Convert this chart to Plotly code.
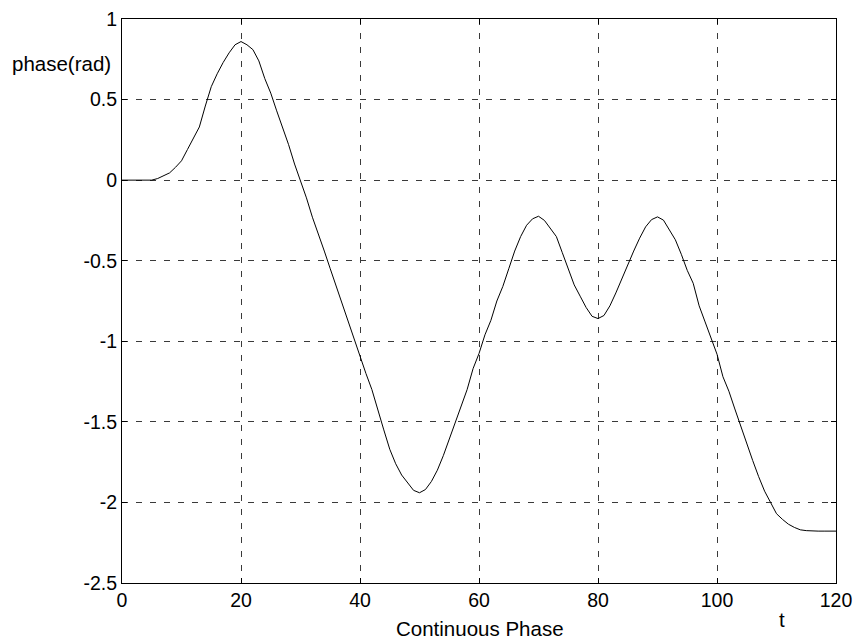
import plotly.graph_objects as go

# Continuous phase trajectory, sampled once per time unit
t = list(range(0, 121))
phase = [
    0.0, 0.0, 0.0, 0.0, 0.0, 0.0, 0.01, 0.025, 0.045, 0.08,
    0.12, 0.19, 0.26, 0.33, 0.46, 0.58, 0.66, 0.73, 0.79, 0.84,
    0.86, 0.84, 0.81, 0.74, 0.63, 0.54, 0.43, 0.33, 0.22, 0.10,
    0.0, -0.11, -0.23, -0.33, -0.44, -0.55, -0.66, -0.77, -0.88, -0.98,
    -1.10, -1.20, -1.30, -1.43, -1.55, -1.67, -1.76, -1.83, -1.88, -1.925,
    -1.94, -1.92, -1.87, -1.80, -1.71, -1.61, -1.51, -1.41, -1.30, -1.17,
    -1.076, -0.96, -0.87, -0.75, -0.66, -0.55, -0.44, -0.35, -0.28, -0.24,
    -0.224, -0.25, -0.30, -0.35, -0.45, -0.55, -0.65, -0.72, -0.79, -0.845,
    -0.859, -0.84, -0.78, -0.70, -0.61, -0.53, -0.44, -0.36, -0.29, -0.245,
    -0.228, -0.248, -0.31, -0.37, -0.46, -0.56, -0.64, -0.78, -0.88, -0.98,
    -1.08, -1.22, -1.31, -1.42, -1.53, -1.64, -1.74, -1.84, -1.93, -2.0,
    -2.07, -2.105, -2.135, -2.155, -2.17, -2.175, -2.178, -2.178, -2.178, -2.178,
    -2.178,
]

x_ticks = [0, 20, 40, 60, 80, 100, 120]
x_tick_text = ["0", "20", "40", "60", "80", "100", "120"]
y_ticks = [-2.5, -2, -1.5, -1, -0.5, 0, 0.5, 1]
y_tick_text = ["-2.5", "-2", "-1.5", "-1", "-0.5", "0", "0.5", "1"]

W, H = 856, 642
L, R, T, B = 122, 20, 19, 59

family = "Liberation Sans, Arial, sans-serif"
font = dict(family=family, size=19.5, color="black")
label_font = dict(family=family, size=20.5, color="black")

fig = go.Figure(
    go.Scatter(
        x=t, y=phase, mode="lines",
        line=dict(color="black", width=1),
        hoverinfo="skip",
    )
)

axis_common = dict(
    showline=True, linecolor="black", linewidth=1, mirror="ticks",
    ticks="inside", ticklen=5, tickcolor="black", tickwidth=1,
    showgrid=True, gridcolor="#3a3a3a", gridwidth=1, griddash="6px,8px",
    zeroline=False, tickfont=font, automargin=False,
)

fig.update_xaxes(range=[0, 120], tickvals=x_ticks, ticktext=x_tick_text, **axis_common)
fig.update_yaxes(range=[-2.5, 1], tickvals=y_ticks, ticktext=y_tick_text, **axis_common)

pw, ph = W - L - R, H - T - B

def px(xp):
    return (xp - L) / pw

def py(yp):
    return 1 - (yp - T) / ph

fig.update_layout(
    width=W, height=H,
    margin=dict(l=L, r=R, t=T, b=B, pad=0, autoexpand=False),
    paper_bgcolor="white", plot_bgcolor="white",
    showlegend=False, font=font,
    annotations=[
        dict(text="phase(rad)", x=px(61), y=py(64), xref="paper", yref="paper",
             showarrow=False, xanchor="center", yanchor="middle", font=label_font),
        dict(text="t", x=px(782), y=py(619), xref="paper", yref="paper",
             showarrow=False, xanchor="center", yanchor="middle", font=label_font),
        dict(text="Continuous Phase", x=px(480), y=py(628), xref="paper", yref="paper",
             showarrow=False, xanchor="center", yanchor="middle",
             font=dict(family=family, size=20.5, color="black")),
    ],
)

fig.write_html("out.html")
